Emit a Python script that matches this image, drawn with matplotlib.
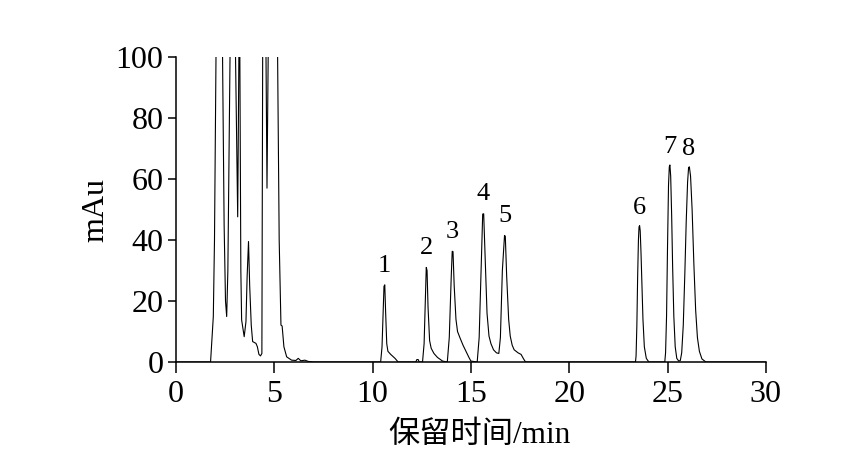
import matplotlib
matplotlib.use("Agg")
import matplotlib.pyplot as plt

plt.rcParams['font.family'] = ['Liberation Serif', 'Noto Sans CJK SC', 'DejaVu Sans']

# chromatogram trace (time in min, signal in mAu)
time = [0.0, 1.76, 1.90, 1.96, 2.10, 2.37, 2.45, 2.52, 2.58, 2.64, 2.75, 2.90,
        3.03, 3.14, 3.20, 3.22, 3.25, 3.30, 3.34, 3.47, 3.56, 3.62, 3.69, 3.75,
        3.83, 3.90, 4.07, 4.14, 4.22, 4.30, 4.37, 4.41, 4.50, 4.58, 4.63, 4.69,
        4.80, 5.17, 5.25, 5.34, 5.40, 5.49, 5.63, 5.88, 6.10, 6.22, 6.35, 6.56,
        6.72, 7.00,
        10.41, 10.48, 10.54, 10.58, 10.62, 10.66, 10.72, 10.78, 10.92, 11.14, 11.30,
        12.20, 12.25, 12.32, 12.37,
        12.54, 12.62, 12.69, 12.73, 12.77, 12.82, 12.90, 12.98, 13.12, 13.30, 13.56,
        13.80, 13.90, 14.00, 14.05, 14.09, 14.15, 14.24, 14.32, 14.44, 14.60, 14.75,
        14.90, 15.00,
        15.32, 15.42, 15.52, 15.60, 15.65, 15.72, 15.82, 15.92, 16.02, 16.15, 16.30,
        16.42, 16.50, 16.60, 16.71, 16.75, 16.82, 16.92, 17.00, 17.10, 17.20, 17.40,
        17.55, 17.68, 17.78,
        23.37, 23.40, 23.44, 23.48, 23.52, 23.55, 23.58, 23.61, 23.65, 23.70,
        23.75, 23.82, 23.92, 24.05,
        24.86, 24.90, 24.95, 25.00, 25.05, 25.09, 25.12, 25.16, 25.21, 25.26,
        25.32, 25.39, 25.47, 25.57,
        25.65, 25.72, 25.80, 25.88, 25.95, 26.02, 26.07, 26.11, 26.17, 26.25,
        26.34, 26.43, 26.52, 26.62, 26.75, 26.95, 30.0]
signal = [0.0, 0.0, 14.9, 40.0, 150.0, 100.0, 45.0, 20.0, 14.9, 30.0, 100.0, 150.0,
          100.0, 47.6, 100.0, 150.0, 100.0, 30.0, 13.8, 8.3, 13.2, 28.0, 39.5, 25.0,
          12.0, 6.7, 6.1, 5.0, 2.5, 2.0, 2.8, 100.0, 150.0, 100.0, 57.0, 100.0,
          150.0, 100.0, 40.0, 12.1, 11.8, 5.0, 1.7, 0.6, 0.5, 1.2, 0.4, 0.6,
          0.2, 0.0,
          0.0, 5.0, 17.0, 24.8, 25.3, 17.0, 6.0, 3.5, 2.5, 1.2, 0.0,
          0.0, 0.8, 0.8, 0.0,
          0.0, 6.0, 22.0, 31.0, 30.0, 18.0, 7.0, 4.5, 2.8, 1.5, 0.3,
          0.0, 8.0, 28.0, 36.3, 36.2, 25.0, 14.0, 10.0, 8.0, 5.5, 3.5,
          1.5, 0.3,
          0.0, 8.0, 30.0, 48.5, 48.6, 35.0, 16.0, 8.5, 6.0, 4.0, 3.0,
          2.8, 8.0, 30.0, 41.5, 41.2, 28.0, 14.0, 8.5, 5.5, 4.0, 3.0,
          2.5, 1.0, 0.0,
          0.0, 2.0, 12.0, 28.0, 40.0, 44.3, 44.7, 43.0, 36.0, 25.0,
          14.0, 5.0, 1.2, 0.0,
          0.0, 3.0, 15.0, 38.0, 58.0, 64.0, 64.6, 61.0, 48.0, 31.0,
          15.0, 5.0, 1.2, 0.3,
          0.5, 3.0, 12.0, 29.0, 46.0, 59.0, 63.7, 64.0, 61.0, 50.0,
          32.0, 17.0, 8.0, 3.5, 1.0, 0.0, 0.0]

peak_labels = ['1', '2', '3', '4', '5', '6', '7', '8']
peak_times = [10.60, 12.75, 14.07, 15.63, 16.73, 23.57, 25.11, 26.09]
peak_heights = [25.6, 31.5, 36.7, 49.3, 41.9, 44.7, 64.6, 64.0]

fig = plt.figure(figsize=(8.5, 4.55), dpi=100)
ax = fig.add_axes([0.207, 0.2044, 0.694, 0.6703])
ax.plot(time, signal, color='black', lw=0.8)

for lab, t, h in zip(peak_labels, peak_times, peak_heights):
    ax.text(t, h + 2.2, lab, ha='center', va='bottom', fontsize=19)

ax.set_xlim(0, 30)
ax.set_ylim(0, 100)
ax.set_xticks([0, 5, 10, 15, 20, 25, 30])
ax.set_yticks([0, 20, 40, 60, 80, 100])
ax.spines['top'].set_visible(False)
ax.spines['right'].set_visible(False)
ax.spines['left'].set_linewidth(1.1)
ax.spines['bottom'].set_linewidth(1.1)
ax.tick_params(axis='both', direction='out', width=1.1, labelsize=23)
ax.tick_params(axis='x', length=8, pad=5)
ax.tick_params(axis='y', length=6, pad=3)
ax.set_xlabel('保留时间/min', fontsize=22.5)
ax.xaxis.set_label_coords(0.515, -0.195)
ax.set_ylabel('mAu', fontsize=23, labelpad=4)

plt.savefig('out.png', dpi=100)
